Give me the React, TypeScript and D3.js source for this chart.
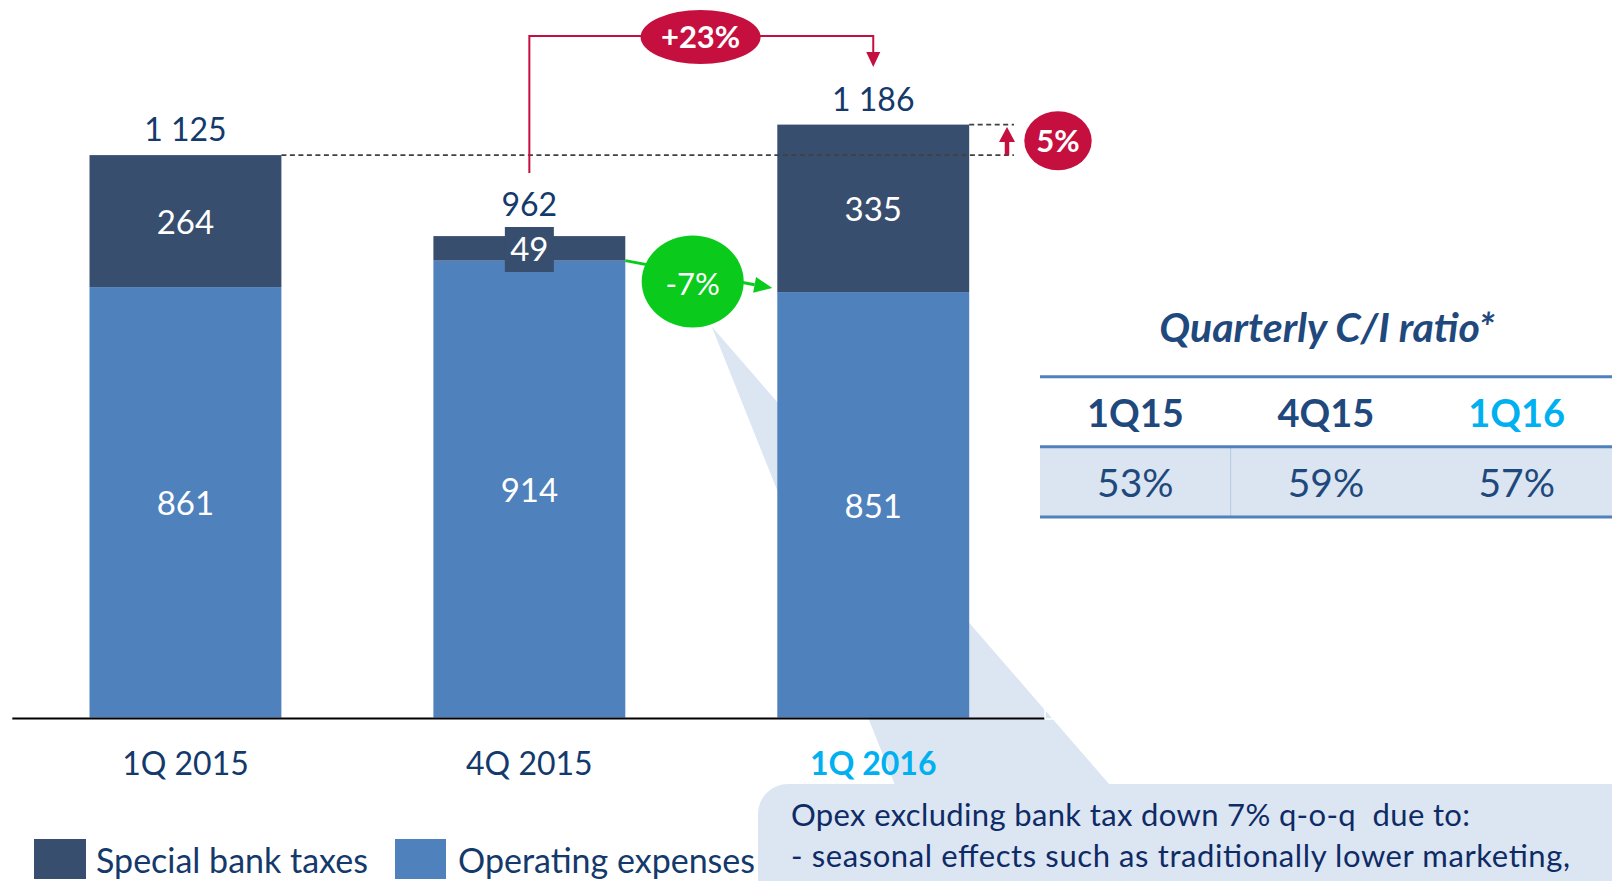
import React, { useEffect } from "react";
import * as d3 from "d3";

const categories = ["1Q 2015", "4Q 2015", "1Q 2016"];
const operatingExpenses = [861, 914, 851];
const specialBankTaxes = [264, 49, 335];
const totals = [1125, 962, 1186];
const ciQuarters = ["1Q15", "4Q15", "1Q16"];
const ciRatios = ["53%", "59%", "57%"];
const changeQoQ = "-7%";
const changeYoYTotal = "+23%";
const changeYoYBars = "5%";
const calloutLines = [
  "Opex excluding bank tax down 7% q-o-q  due to:",
  "- seasonal effects such as traditionally lower marketing,",
];
const calloutWidths = [679, 779];

const W = 1612;
const H = 881;
const FONT = "Lato, 'Open Sans', sans-serif";
const DARK = "#384e6e";
const LIGHT = "#4f81bd";
const NAVY = "#14396b";
const CYAN = "#00b0f0";
const RED = "#c50f3f";
const GREEN = "#0acb1b";
const PALE = "#dce6f2";

const fmt = d3.formatLocale({ decimal: ".", thousands: " ", grouping: [3], currency: ["", ""] }).format(",d");

export default function App() {
  useEffect(() => {
    document.body.style.margin = "0";
    document.body.style.overflow = "hidden";
  }, []);

  const x = d3.scaleBand<string>().domain(categories).range([13.5, 1045.2]).paddingInner(0.442).paddingOuter(0.221);
  const y = d3.scaleLinear().domain([0, 1200]).range([717.6, 117.6]);
  const bw = x.bandwidth();

  const stacked = categories.map((c, i) => ({
    c,
    x0: x(c) as number,
    cx: (x(c) as number) + bw / 2,
    opTop: y(operatingExpenses[i]),
    taxTop: y(operatingExpenses[i] + specialBankTaxes[i]),
  }));

  const b1 = stacked[0], b2 = stacked[1], b3 = stacked[2];

  // green arrow geometry
  const gStart: [number, number] = [b2.x0 + bw, b2.opTop];
  const gTip: [number, number] = [b3.x0 - 5, b3.opTop - 4];
  const ang = Math.atan2(gTip[1] - gStart[1], gTip[0] - gStart[0]);
  const headLen = 18, headW = 8;
  const gBase: [number, number] = [gTip[0] - headLen * Math.cos(ang), gTip[1] - headLen * Math.sin(ang)];
  const gHead = [
    gTip,
    [gBase[0] + headW * Math.sin(ang), gBase[1] - headW * Math.cos(ang)],
    [gBase[0] - headW * Math.sin(ang), gBase[1] + headW * Math.cos(ang)],
  ];
  const gEllipse = { cx: 692.7, cy: 281.5, rx: 51, ry: 46 };

  // red bracket
  const bracketTop = 36;
  const bracketLeftX = b2.cx;
  const bracketRightX = b3.cx;
  const topY1125 = y(totals[0]);
  const topY1186 = y(totals[2]);
  const dashEnd = 1014;
  const upX = 1007;

  // table
  const tX0 = 1040, tX1 = 1612;
  const colW = (tX1 - tX0) / 3;
  const tLine1 = 376.7, tLine2 = 446.7, tLine3 = 517;

  return (
    <svg width={W} height={H} style={{ position: "absolute", left: 0, top: 0, background: "#fff" }} fontFamily={FONT}>
      <rect x={0} y={0} width={W} height={H} fill="#fff" />
      {/* callout wedge + box */}
      <polygon points={`${gEllipse.cx + 19},${gEllipse.cy + 45} 901,800 1123,800`} fill={PALE} />
      <rect x={758} y={784} width={920} height={200} rx={30} ry={30} fill={PALE} />

      {/* bars */}
      {stacked.map((b) => (
        <g key={b.c}>
          <rect x={b.x0} y={b.opTop} width={bw} height={y(0) - b.opTop} fill={LIGHT} />
          <rect x={b.x0} y={b.taxTop} width={bw} height={b.opTop - b.taxTop} fill={DARK} />
        </g>
      ))}

      {/* baseline */}
      <line x1={12.3} x2={1045} y1={718.6} y2={718.6} stroke="#000" strokeWidth={2} />
      <path d="M1045,699 V719 H1057" fill="none" stroke="#fff" strokeWidth={1.5} />

      {/* dashed reference lines */}
      <line x1={b1.x0 + bw} x2={dashEnd} y1={topY1125} y2={topY1125} stroke="#404040" strokeWidth={1.6} strokeDasharray="5,3.5" />
      <line x1={b3.x0 + bw} x2={dashEnd} y1={topY1186} y2={topY1186} stroke="#404040" strokeWidth={1.6} strokeDasharray="5,3.5" />

      {/* small box for 49 */}
      <rect x={b2.cx - 24.5} y={227} width={49} height={45} fill={DARK} />

      {/* inner labels */}
      {stacked.map((b, i) => (
        <g key={"l" + b.c} fill="#fff" fontSize={33} textAnchor="middle">
          <text x={b.cx} y={(b.taxTop + b.opTop) / 2 + 13}>{fmt(specialBankTaxes[i])}</text>
          <text x={b.cx} y={(b.opTop + y(0)) / 2 + 13}>{fmt(operatingExpenses[i])}</text>
        </g>
      ))}

      {/* totals */}
      {stacked.map((b, i) => (
        <text key={"t" + b.c} x={b.cx} y={i === 1 ? 216 : b.taxTop - 14} fill={NAVY} fontSize={32} textAnchor="middle">
          {fmt(totals[i])}
        </text>
      ))}

      {/* category labels */}
      {stacked.map((b, i) => (
        <text key={"c" + b.c} x={b.cx} y={775} fill={i === 2 ? CYAN : NAVY} fontSize={32} fontWeight={i === 2 ? 700 : 400} textAnchor="middle">
          {b.c}
        </text>
      ))}

      {/* red bracket +23% */}
      <path d={`M${bracketLeftX},173 V${bracketTop} H${bracketRightX} V53`} fill="none" stroke={RED} strokeWidth={2} />
      <polygon points={`${bracketRightX - 7},52 ${bracketRightX + 7},52 ${bracketRightX},67`} fill={RED} />
      <ellipse cx={700.6} cy={37} rx={60} ry={27} fill={RED} />
      <text x={700.6} y={48} fill="#fff" fontSize={31} fontWeight={700} textAnchor="middle">{changeYoYTotal}</text>

      {/* red up arrow 5% */}
      <line x1={upX} x2={upX} y1={topY1125} y2={141} stroke={RED} strokeWidth={4.5} />
      <polygon points={`${upX - 8},142 ${upX + 8},142 ${upX},127`} fill={RED} />
      <ellipse cx={1058} cy={140.8} rx={33.7} ry={29.5} fill={RED} />
      <text x={1058} y={152} fill="#fff" fontSize={31} fontWeight={700} textAnchor="middle">{changeYoYBars}</text>

      {/* green arrow -7% */}
      <line x1={gStart[0]} y1={gStart[1]} x2={gBase[0]} y2={gBase[1]} stroke={GREEN} strokeWidth={3} />
      <polygon points={gHead.map((p) => p.join(",")).join(" ")} fill={GREEN} />
      <ellipse cx={gEllipse.cx} cy={gEllipse.cy} rx={gEllipse.rx} ry={gEllipse.ry} fill={GREEN} />
      <text x={gEllipse.cx} y={294.5} fill="#fff" fontSize={31} textAnchor="middle">{changeQoQ}</text>

      {/* C/I table */}
      <text x={1327} y={342} fill="#1f497d" fontSize={41} fontWeight={700} fontStyle="italic" textAnchor="middle">
        Quarterly C/I ratio*
      </text>
      <rect x={tX0} y={tLine2} width={tX1 - tX0} height={tLine3 - tLine2} fill="#dbe5f1" />
      <line x1={tX0 + colW} x2={tX0 + colW} y1={tLine2} y2={tLine3} stroke="#b4c8e4" strokeWidth={1} />
      {[tLine1, tLine2, tLine3].map((ly) => (
        <line key={ly} x1={tX0} x2={tX1} y1={ly} y2={ly} stroke={LIGHT} strokeWidth={3} />
      ))}
      {ciQuarters.map((q, i) => (
        <text key={q} x={tX0 + colW * (i + 0.5)} y={427} fill={i === 2 ? CYAN : "#1f497d"} fontSize={38} fontWeight={700} textAnchor="middle">
          {q}
        </text>
      ))}
      {ciRatios.map((r, i) => (
        <text key={"r" + i} x={tX0 + colW * (i + 0.5)} y={497} fill="#1f497d" fontSize={39} textAnchor="middle">
          {r}
        </text>
      ))}

      {/* callout text */}
      {calloutLines.map((t, i) => (
        <text key={i} x={791} y={826 + i * 41} fill="#0e2b66" fontSize={31} textLength={calloutWidths[i]} lengthAdjust="spacing" style={{ whiteSpace: "pre" }}>{t}</text>
      ))}

      {/* legend */}
      <rect x={34} y={839} width={52} height={40} fill={DARK} />
      <text x={96} y={873} fill={NAVY} fontSize={34}>Special bank taxes</text>
      <rect x={395} y={839} width={51} height={40} fill={LIGHT} />
      <text x={458} y={873} fill={NAVY} fontSize={34}>Operating expenses</text>
    </svg>
  );
}
